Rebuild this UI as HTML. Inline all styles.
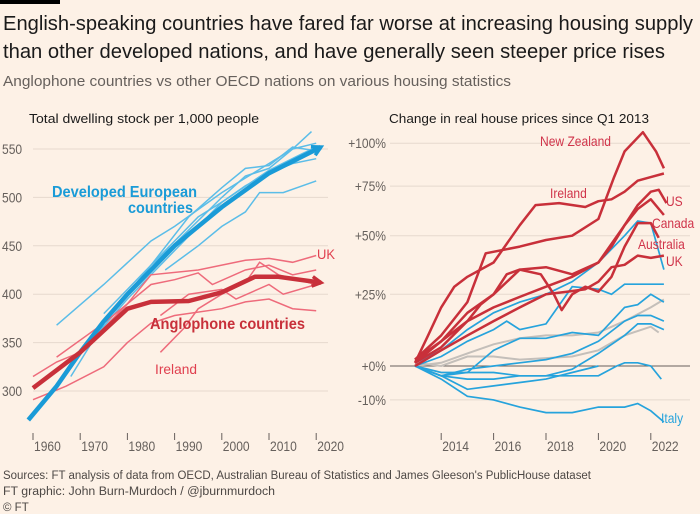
<!DOCTYPE html>
<html><head><meta charset="utf-8"><style>
body{margin:0;background:#fdf1e6;}
svg{display:block;font-family:"Liberation Sans",sans-serif;}
</style></head><body>
<svg id="s" width="700" height="514" viewBox="0 0 700 514">
<rect width="700" height="514" fill="#fdf1e6"/>
<rect x="0" y="0" width="60" height="4" fill="#000"/>
<text x="3" y="30" font-size="20" fill="#1a1a1a" textLength="690" lengthAdjust="spacingAndGlyphs">English-speaking countries have fared far worse at increasing housing supply</text>
<text x="3" y="58" font-size="20" fill="#1a1a1a" textLength="662" lengthAdjust="spacingAndGlyphs">than other developed nations, and have generally seen steeper price rises</text>
<text x="3" y="86" font-size="15" fill="#66605c" textLength="508" lengthAdjust="spacingAndGlyphs">Anglophone countries vs other OECD nations on various housing statistics</text>
<text x="29" y="123" font-size="13" fill="#1a1a1a" textLength="230" lengthAdjust="spacingAndGlyphs">Total dwelling stock per 1,000 people</text>
<text x="389" y="123" font-size="13" fill="#1a1a1a" textLength="260" lengthAdjust="spacingAndGlyphs">Change in real house prices since Q1 2013</text>
<g id="L"></g>
<g id="R"></g>
<text x="3" y="479" font-size="11.5" fill="#4d4845" textLength="588" lengthAdjust="spacingAndGlyphs">Sources: FT analysis of data from OECD, Australian Bureau of Statistics and James Gleeson's PublicHouse dataset</text>
<text x="3" y="495" font-size="11.5" fill="#4d4845" textLength="272" lengthAdjust="spacingAndGlyphs">FT graphic: John Burn-Murdoch / @jburnmurdoch</text>
<text x="3" y="511" font-size="11.5" fill="#4d4845">© FT</text>
</svg>
<script>
// ---- Left chart data ----
const leftYTicks=[300,350,400,450,500,550];
const leftXTicks=[1960,1970,1980,1990,2000,2010,2020];
const euroThin=[
 [[1965,368],[1975,410],[1985,455],[1990,470],[2000,505],[2005,520],[2010,535],[2015,550],[2020,556]],
 [[1968,315],[1975,370],[1985,430],[1990,452],[2000,500],[2005,522],[2010,530],[2015,550],[2019,568]],
 [[1988,425],[1995,450],[2000,470],[2005,485],[2008,505],[2013,505],[2020,517]],
 [[1975,380],[1985,430],[1995,480],[2000,495],[2005,512],[2010,525],[2015,535],[2020,540]],
 [[1985,430],[1993,480],[2000,510],[2005,530],[2010,533],[2015,552],[2020,548]],
 [[1964,300],[1972,350],[1980,395],[1990,445],[2000,495],[2010,528],[2017,545],[2020,552]]
];
const euroMain=[[1959,270],[1965,305],[1970,340],[1975,372],[1980,400],[1985,425],[1990,450],[2000,490],[2010,525],[2021,552]];
const angloThin=[
 [[1960,315],[1965,330],[1970,340],[1975,365],[1980,390],[1985,420],[1995,425],[2005,435],[2010,437],[2015,433],[2020,440]],
 [[1987,340],[1992,365],[1995,385],[2000,400],[2005,412],[2008,433],[2012,420],[2020,410]],
 [[1960,291],[1967,305],[1975,325],[1980,350],[1985,370],[1990,378],[2000,385],[2005,392],[2010,395],[2015,385],[2020,383]],
 [[1965,335],[1975,370],[1985,410],[1990,415],[1995,422],[1998,410],[2005,425],[2010,430],[2015,420],[2020,425]],
 [[1987,378],[1993,400],[2000,405],[2003,395],[2010,410],[2013,400],[2020,410]]
];
const angloMain=[[1960,303],[1970,340],[1980,385],[1985,392],[1993,393],[2000,402],[2007,418],[2012,418],[2021,412]];
// ---- Right chart data ----
const rightYTicks=[-10,0,25,50,75,100];
const rightYLabels=["-10%","+0%","+25%","+50%","+75%","+100%"];
const rightXTicks=[2014,2016,2018,2020,2022];
const nz=[[2013,2],[2014,10],[2015,22],[2015.7,42],[2017,45],[2018,48],[2019,50],[2020,58],[2020.6,80],[2021,95],[2021.7,107],[2022.2,95],[2022.5,85]];
const ireland=[[2013,1],[2013.5,10],[2014,20],[2014.5,28],[2015,32],[2016,38],[2017,55],[2017.6,65],[2018.5,66],[2019.5,64],[2020,67],[2020.5,68],[2021,72],[2021.5,78],[2022,80],[2022.5,82]];
const us=[[2013,2],[2014,8],[2015,15],[2016,20],[2017,24],[2018,28],[2019,32],[2020,38],[2020.5,45],[2021,55],[2021.5,65],[2022,72],[2022.3,73],[2022.6,66]];
const canada=[[2013,1],[2014,6],[2015,15],[2015.5,21],[2016,25],[2016.5,33],[2017,35],[2018,36],[2019,33],[2020,38],[2021,55],[2021.5,63],[2022,68],[2022.5,60]];
const australia=[[2013,1],[2014,8],[2015,18],[2016,25],[2017,35],[2017.8,33],[2018.3,25],[2018.6,19],[2019,25],[2019.5,28],[2020,26],[2020.5,32],[2021,45],[2021.5,56],[2022,56],[2022.3,49]];
const uk=[[2013,0],[2014,5],[2015,10],[2016,15],[2017,20],[2018,25],[2018.8,26],[2019.5,27],[2020,30],[2020.5,36],[2021,37],[2021.5,41],[2022,40],[2022.5,41]];
const blueSeries=[
 [[2013,1],[2014,5],[2015,12],[2016,18],[2017,22],[2018,25],[2019,30],[2020,38],[2021,50],[2021.5,57],[2022,56],[2022.5,35]],
 [[2013,0],[2014,3],[2015,8],[2016,12],[2016.5,15],[2017,12],[2018,14],[2019,28],[2020,27],[2020.5,25],[2021,29],[2022,29],[2022.5,29]],
 [[2013,0],[2014,-3],[2015,-2],[2016,5],[2017,9],[2018,9],[2019,11],[2020,10],[2021,20],[2021.5,21],[2022,25],[2022.5,22]],
 [[2013,0],[2014,-3],[2015,-1],[2016,0],[2017,1],[2018,2],[2019,4],[2020,8],[2021,15],[2021.5,17],[2022,17],[2022.5,15]],
 [[2013,0],[2014,-3],[2015,-4],[2016,-4],[2017,-3],[2018,-3],[2019,-1],[2020,4],[2021,10],[2021.5,14],[2022,14],[2022.5,12]],
 [[2013,0],[2014,-2],[2015,-2],[2016,-2],[2017,-3],[2018,-3],[2019,-3],[2020,-3],[2020.7,0],[2021,1],[2021.5,1],[2022,0],[2022.4,-4]],
 [[2013,0],[2014,-3],[2015,-7],[2016,-6],[2017,-5],[2018,-4],[2019,-2],[2020,0]]
];
const italy=[[2013,0],[2014,-4],[2015,-9],[2016,-10],[2017,-12],[2018,-13.5],[2019,-13.5],[2020,-12],[2021,-12],[2021.5,-11],[2022,-13],[2022.5,-16]];
const greySeries=[
 [[2013,0],[2014,1],[2015,4],[2016,7],[2017,9],[2018,10],[2019,10],[2020,11],[2021,15],[2022,20],[2022.5,23]],
 [[2013,1],[2014,0],[2015,3],[2016,3],[2017,2],[2018,2.5],[2019,3],[2020,5],[2021,10],[2022,13],[2022.3,11]]
];

const NS="http://www.w3.org/2000/svg";
function mk(tag,attrs,parent,txt){const e=document.createElementNS(NS,tag);for(const k in attrs)e.setAttribute(k,attrs[k]);if(txt!==undefined)e.textContent=txt;parent.appendChild(e);return e;}
const lx=y=>33+(y-1960)*4.72, ly=v=>391-(v-300)*0.968;
const rx=y=>415+(y-2013)*26.2, ry=p=>366-740*Math.log10(1+p/100);
function pathD(pts,fx,fy){return pts.map((p,i)=>(i?"L":"M")+fx(p[0]).toFixed(1)+","+fy(p[1]).toFixed(1)).join("");}
function squeeze(t){const w=t.getComputedTextLength();t.setAttribute('textLength',(w*0.86).toFixed(1));t.setAttribute('lengthAdjust','spacingAndGlyphs');}

const L=document.getElementById('L'), R=document.getElementById('R');
// left axes
leftYTicks.forEach(v=>{
 const g=mk('line',{x1:33,x2:328,y1:ly(v),y2:ly(v),stroke:'#e6d9ce','stroke-width':1},L);
 
 
 const t=mk('text',{x:2,y:ly(v)+5,'font-size':14,fill:'#66605c'},L,v);
 
 
 squeeze(t);
});
leftXTicks.forEach(y=>{
 const l=mk('line',{x1:lx(y),x2:lx(y),y1:433,y2:440,stroke:'#66605c'},L);
 
 
 const t=mk('text',{x:lx(y)+1,y:451,'font-size':14,fill:'#66605c'},L,y);
 
 
 squeeze(t);
});
euroThin.forEach(s=>{const p=mk('path',{d:pathD(s,lx,ly),fill:'none',stroke:'#5bbde8','stroke-width':1.5},L);
 
 });
angloThin.forEach(s=>{const p=mk('path',{d:pathD(s,lx,ly),fill:'none',stroke:'#ee6b7b','stroke-width':1.5},L);
 
 });
function thick(pts,col,name){
 const p=mk('path',{d:pathD(pts,lx,ly),fill:'none',stroke:col,'stroke-width':4.5,'stroke-linejoin':'round'},L);
 
 
 const a=pts[pts.length-1],b=pts[pts.length-2];
 const x=lx(a[0]),y=ly(a[1]),ang=Math.atan2(y-ly(b[1]),x-lx(b[0]));
 const h=mk('path',{d:`M${x-10*Math.cos(ang-0.5)},${y-10*Math.sin(ang-0.5)}L${x},${y}L${x-10*Math.cos(ang+0.5)},${y-10*Math.sin(ang+0.5)}`,fill:'none',stroke:col,'stroke-width':3.5},L);
 
 
}
thick(euroMain,'#1a9bd7','european-average-line');
thick(angloMain,'#c8303a','anglophone-average-line');
[["Developed European",52,197,'#1a9bd7',16,'bold',145],["countries",128,213,'#1a9bd7',16,'bold',65],["Anglophone countries",150,329,'#c8303a',16,'bold',155],["UK",317,259,'#e0404f',14,'normal',18],["Ireland",155,374,'#e0404f',14,'normal',42]].forEach(d=>{
 const t=mk('text',{x:d[1],y:d[2],'font-size':d[4],fill:d[3],'font-weight':d[5],textLength:d[6],lengthAdjust:'spacingAndGlyphs'},L,d[0]);
 
 
});
// right axes
rightYTicks.forEach((v,i)=>{
 const g=mk('line',{x1:390,x2:690,y1:ry(v),y2:ry(v),stroke:v===0?'#66605c':'#e6d9ce','stroke-width':1},R);
 
 
 const t=mk('text',{x:386,y:ry(v)+5,'font-size':14,fill:'#66605c','text-anchor':'end'},R,rightYLabels[i]);
 
 
 squeeze(t);
});
rightXTicks.forEach(y=>{
 const l=mk('line',{x1:rx(y),x2:rx(y),y1:433,y2:440,stroke:'#66605c'},R);
 
 
 const t=mk('text',{x:rx(y)+1,y:451,'font-size':14,fill:'#66605c'},R,y);
 
 
 squeeze(t);
});
greySeries.forEach(s=>{const p=mk('path',{d:pathD(s,rx,ry),fill:'none',stroke:'#c4bfba','stroke-width':2},R);
 
 });
blueSeries.concat([italy]).forEach(s=>{const p=mk('path',{d:pathD(s,rx,ry),fill:'none',stroke:'#26a3dc','stroke-width':1.7},R);
 
 });
[nz,ireland,us,canada,australia,uk].forEach(s=>{const p=mk('path',{d:pathD(s,rx,ry),fill:'none',stroke:'#c8303a','stroke-width':2.5,'stroke-linejoin':'round'},R);
 
 });
[["New Zealand",540,146,'#d0344a'],["Ireland",550,198,'#d0344a'],["US",666,206,'#d0344a'],["Canada",652,228,'#d0344a'],["Australia",638,249,'#d0344a'],["UK",666,266,'#d0344a'],["Italy",661,423,'#26a3dc']].forEach(d=>{
 const t=mk('text',{x:d[1],y:d[2],'font-size':14,fill:d[3]},R,d[0]);
 
 
 squeeze(t);
});
</script>
</body></html>
